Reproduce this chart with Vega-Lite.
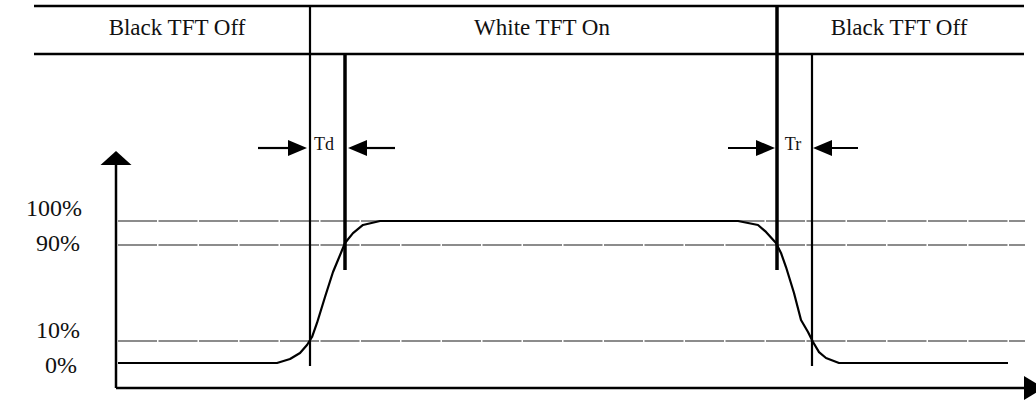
{
  "$schema": "https://vega.github.io/schema/vega-lite/v6.json",
  "width": 1036,
  "height": 401,
  "padding": 0,
  "autosize": {"type": "none"},
  "background": "white",
  "config": {"view": {"stroke": null}},
  "datasets": {
    "curve": [
      {"t": 118, "level": 0}, {"t": 277, "level": 0}, {"t": 290, "level": 2.8}, {"t": 300, "level": 7.0},
      {"t": 307, "level": 12.7}, {"t": 312, "level": 18.3}, {"t": 317, "level": 28.2}, {"t": 325, "level": 46.5},
      {"t": 333, "level": 64.1}, {"t": 338, "level": 72.5}, {"t": 345, "level": 84.5}, {"t": 353, "level": 91.5},
      {"t": 363, "level": 97.2}, {"t": 380, "level": 100}, {"t": 738, "level": 100}, {"t": 758, "level": 97.2},
      {"t": 766, "level": 92.3}, {"t": 776, "level": 84.5}, {"t": 781, "level": 77.5}, {"t": 786, "level": 67.6},
      {"t": 794, "level": 49.3}, {"t": 801, "level": 30.3}, {"t": 808, "level": 21.8}, {"t": 813, "level": 14.8},
      {"t": 819, "level": 7.7}, {"t": 826, "level": 3.5}, {"t": 839, "level": 0}, {"t": 1008, "level": 0}
    ],
    "guides": [
      {"t0": 118, "t1": 1025, "level": 100, "label": "100%"},
      {"t0": 118, "t1": 1025, "level": 83.1, "label": "90%"},
      {"t0": 118, "t1": 1025, "level": 15.5, "label": "10%"}
    ],
    "header": [
      {"t0": 34, "t1": 1024, "level": 251.4},
      {"t0": 34, "t1": 1024, "level": 217.6}
    ],
    "boundaries": [
      {"t": 310, "l0": 251.4, "l1": -2.1},
      {"t": 812, "l0": 216.9, "l1": -2.1}
    ],
    "markers": [
      {"t": 345, "l0": 216.9, "l1": 65.5},
      {"t": 777, "l0": 251.4, "l1": 65.5}
    ],
    "axes": [
      {"t0": 116, "t1": 116, "l0": -17.6, "l1": 143},
      {"t0": 116, "t1": 1025, "l0": -17.6, "l1": -17.6}
    ],
    "shafts": [
      {"t0": 258, "t1": 290, "level": 151.4},
      {"t0": 365, "t1": 395, "level": 151.4},
      {"t0": 728, "t1": 767, "level": 151.4},
      {"t0": 820, "t1": 858, "level": 151.4}
    ],
    "headsRight": [
      {"t": 297.5, "level": 151.4},
      {"t": 765.5, "level": 151.4}
    ],
    "headsLeft": [
      {"t": 357.5, "level": 151.4},
      {"t": 822.5, "level": 151.4}
    ],
    "headX": [{"t": 1034, "level": -17.6}],
    "headY": [{"t": 116, "level": 144.4}],
    "phases": [
      {"t": 177, "level": 235.9, "label": "Black TFT Off"},
      {"t": 542, "level": 235.9, "label": "White TFT On"},
      {"t": 899, "level": 235.9, "label": "Black TFT Off"}
    ],
    "times": [
      {"t": 324, "level": 153.5, "label": "Td"},
      {"t": 793, "level": 153.5, "label": "Tr"}
    ],
    "ylabels": [
      {"t": 82, "level": 108.5, "label": "100%"},
      {"t": 80, "level": 83.8, "label": "90%"},
      {"t": 80, "level": 22.5, "label": "10%"},
      {"t": 77, "level": -2.1, "label": "0%"}
    ]
  },
  "layer": [
    {
      "data": {"name": "guides"},
      "mark": {"type": "rule", "color": "#8c8c8c", "strokeWidth": 2, "strokeDash": [39, 1.5]},
      "encoding": {
        "x": {"field": "t0", "type": "quantitative", "scale": {"domain": [0, 1036], "nice": false, "zero": false}, "axis": null},
        "x2": {"field": "t1"},
        "y": {"field": "level", "type": "quantitative", "scale": {"domain": [-26.76, 255.63], "nice": false, "zero": false}, "axis": null}
      }
    },
    {
      "data": {"name": "header"},
      "mark": {"type": "rule", "color": "black", "strokeWidth": 2.5},
      "encoding": {
        "x": {"field": "t0", "type": "quantitative", "scale": {"domain": [0, 1036]}, "axis": null},
        "x2": {"field": "t1"},
        "y": {"field": "level", "type": "quantitative", "axis": null}
      }
    },
    {
      "data": {"name": "boundaries"},
      "mark": {"type": "rule", "color": "black", "strokeWidth": 2.2},
      "encoding": {
        "x": {"field": "t", "type": "quantitative", "axis": null},
        "y": {"field": "l0", "type": "quantitative", "axis": null},
        "y2": {"field": "l1"}
      }
    },
    {
      "data": {"name": "markers"},
      "mark": {"type": "rule", "color": "black", "strokeWidth": 3.5},
      "encoding": {
        "x": {"field": "t", "type": "quantitative", "axis": null},
        "y": {"field": "l0", "type": "quantitative", "axis": null},
        "y2": {"field": "l1"}
      }
    },
    {
      "data": {"name": "axes"},
      "mark": {"type": "rule", "color": "black", "strokeWidth": 2.5},
      "encoding": {
        "x": {"field": "t0", "type": "quantitative", "axis": null},
        "x2": {"field": "t1"},
        "y": {"field": "l0", "type": "quantitative", "axis": null},
        "y2": {"field": "l1"}
      }
    },
    {
      "data": {"name": "shafts"},
      "mark": {"type": "rule", "color": "black", "strokeWidth": 2.2},
      "encoding": {
        "x": {"field": "t0", "type": "quantitative", "axis": null},
        "x2": {"field": "t1"},
        "y": {"field": "level", "type": "quantitative", "axis": null}
      }
    },
    {
      "data": {"name": "headsRight"},
      "mark": {"type": "point", "shape": "M-1,-0.84L1,0L-1,0.84Z", "size": 361, "filled": true, "color": "black", "opacity": 1, "strokeWidth": 0},
      "encoding": {
        "x": {"field": "t", "type": "quantitative", "axis": null},
        "y": {"field": "level", "type": "quantitative", "axis": null}
      }
    },
    {
      "data": {"name": "headsLeft"},
      "mark": {"type": "point", "shape": "M1,-0.84L-1,0L1,0.84Z", "size": 361, "filled": true, "color": "black", "opacity": 1, "strokeWidth": 0},
      "encoding": {
        "x": {"field": "t", "type": "quantitative", "axis": null},
        "y": {"field": "level", "type": "quantitative", "axis": null}
      }
    },
    {
      "data": {"name": "headX"},
      "mark": {"type": "point", "shape": "M-1,-1.2L1,0L-1,1.2Z", "size": 400, "filled": true, "color": "black", "opacity": 1, "strokeWidth": 0, "clip": false},
      "encoding": {
        "x": {"field": "t", "type": "quantitative", "axis": null},
        "y": {"field": "level", "type": "quantitative", "axis": null}
      }
    },
    {
      "data": {"name": "headY"},
      "mark": {"type": "point", "shape": "M0,-0.45L1,0.45L-1,0.45Z", "size": 961, "filled": true, "color": "black", "opacity": 1, "strokeWidth": 0},
      "encoding": {
        "x": {"field": "t", "type": "quantitative", "axis": null},
        "y": {"field": "level", "type": "quantitative", "axis": null}
      }
    },
    {
      "data": {"name": "curve"},
      "mark": {"type": "line", "color": "black", "strokeWidth": 2.2, "strokeJoin": "round"},
      "encoding": {
        "x": {"field": "t", "type": "quantitative", "axis": null},
        "y": {"field": "level", "type": "quantitative", "axis": null}
      }
    },
    {
      "data": {"name": "phases"},
      "mark": {"type": "text", "font": "Liberation Serif", "fontSize": 23, "color": "#111", "align": "center", "baseline": "middle"},
      "encoding": {
        "x": {"field": "t", "type": "quantitative", "axis": null},
        "y": {"field": "level", "type": "quantitative", "axis": null},
        "text": {"field": "label"}
      }
    },
    {
      "data": {"name": "times"},
      "mark": {"type": "text", "font": "Liberation Serif", "fontSize": 18, "color": "#111", "align": "center", "baseline": "middle"},
      "encoding": {
        "x": {"field": "t", "type": "quantitative", "axis": null},
        "y": {"field": "level", "type": "quantitative", "axis": null},
        "text": {"field": "label"}
      }
    },
    {
      "data": {"name": "ylabels"},
      "mark": {"type": "text", "font": "Liberation Serif", "fontSize": 24, "color": "#111", "align": "right", "baseline": "middle"},
      "encoding": {
        "x": {"field": "t", "type": "quantitative", "axis": null},
        "y": {"field": "level", "type": "quantitative", "axis": null},
        "text": {"field": "label"}
      }
    }
  ]
}
